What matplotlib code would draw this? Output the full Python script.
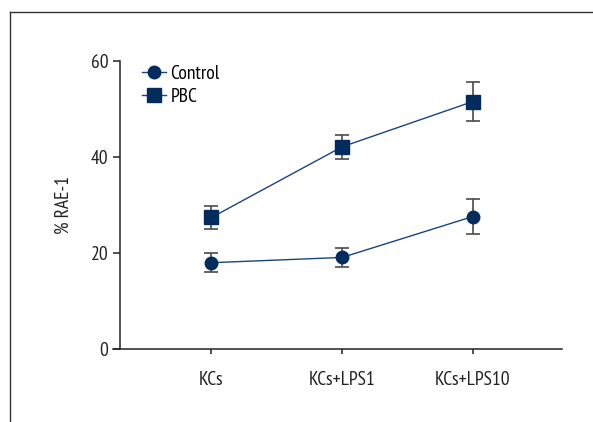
import matplotlib
matplotlib.use('Agg')
import matplotlib.pyplot as plt
from matplotlib.lines import Line2D
import numpy as np

# values
groups = ['KCs', 'KCs+LPS1', 'KCs+LPS10']
control_mean = [18.0, 19.1, 27.6]
control_err = [2.0, 1.9, 3.7]
pbc_mean = [27.4, 42.1, 51.5]
pbc_err = [2.3, 2.5, 4.1]
y_ticks = [0, 20, 40, 60]

plt.rcParams['font.family'] = ['PT Sans Narrow', 'DejaVu Sans']
plt.rcParams['font.size'] = 14

navy = '#022c5e'
line_col = '#1a4480'
err_col = '#4a4a4a'
ink = '#222222'

fig = plt.figure(figsize=(5.93, 4.22), dpi=100)
ax = fig.add_axes([0.2024, 0.1723, 0.7448, 0.6839])

x = np.arange(len(groups))

ax.errorbar(x, control_mean, yerr=control_err, fmt='none', ecolor=err_col,
            elinewidth=1.2, capsize=4.8, capthick=1.2, zorder=2)
ax.errorbar(x, pbc_mean, yerr=pbc_err, fmt='none', ecolor=err_col,
            elinewidth=1.2, capsize=4.8, capthick=1.2, zorder=2)
ax.plot(x, control_mean, color=line_col, lw=1.0, marker='o', markersize=9,
        markerfacecolor=navy, markeredgecolor=navy, label='Control', zorder=3)
ax.plot(x, pbc_mean, color=line_col, lw=1.0, marker='s', markersize=10,
        markerfacecolor=navy, markeredgecolor=navy, label='PBC', zorder=3)

ax.set_xlim(-0.70, 2.68)
ax.set_ylim(0, 60)
ax.set_xticks(x)
ax.set_xticklabels(groups)
ax.set_yticks(y_ticks)
ax.set_ylabel('% RAE-1', labelpad=13, color=ink)

for side in ['top', 'right']:
    ax.spines[side].set_visible(False)
for side in ['left', 'bottom']:
    ax.spines[side].set_color(ink)
    ax.spines[side].set_linewidth(1.1)
ax.spines['bottom'].set_bounds(-0.70 - 7 / 130.7, 2.68)
ax.tick_params(axis='y', length=5, width=1.1, pad=3.5, colors=ink)
ax.tick_params(axis='x', length=3.5, width=1.1, pad=12, colors=ink)

ax.legend(loc='upper left', bbox_to_anchor=(0.05, 0.985), frameon=False,
          borderpad=0, handlelength=1.25, handletextpad=0.2, labelspacing=0.25,
          borderaxespad=0)

# outer frame lines (top and left)
fig.add_artist(Line2D([10 / 593, 1], [1 - 12.3 / 422, 1 - 12.3 / 422],
                      color='#333333', lw=1.0))
fig.add_artist(Line2D([10 / 593, 10 / 593], [0, 1 - 12.3 / 422],
                      color='#333333', lw=1.0))

fig.savefig('out.png', dpi=100)
